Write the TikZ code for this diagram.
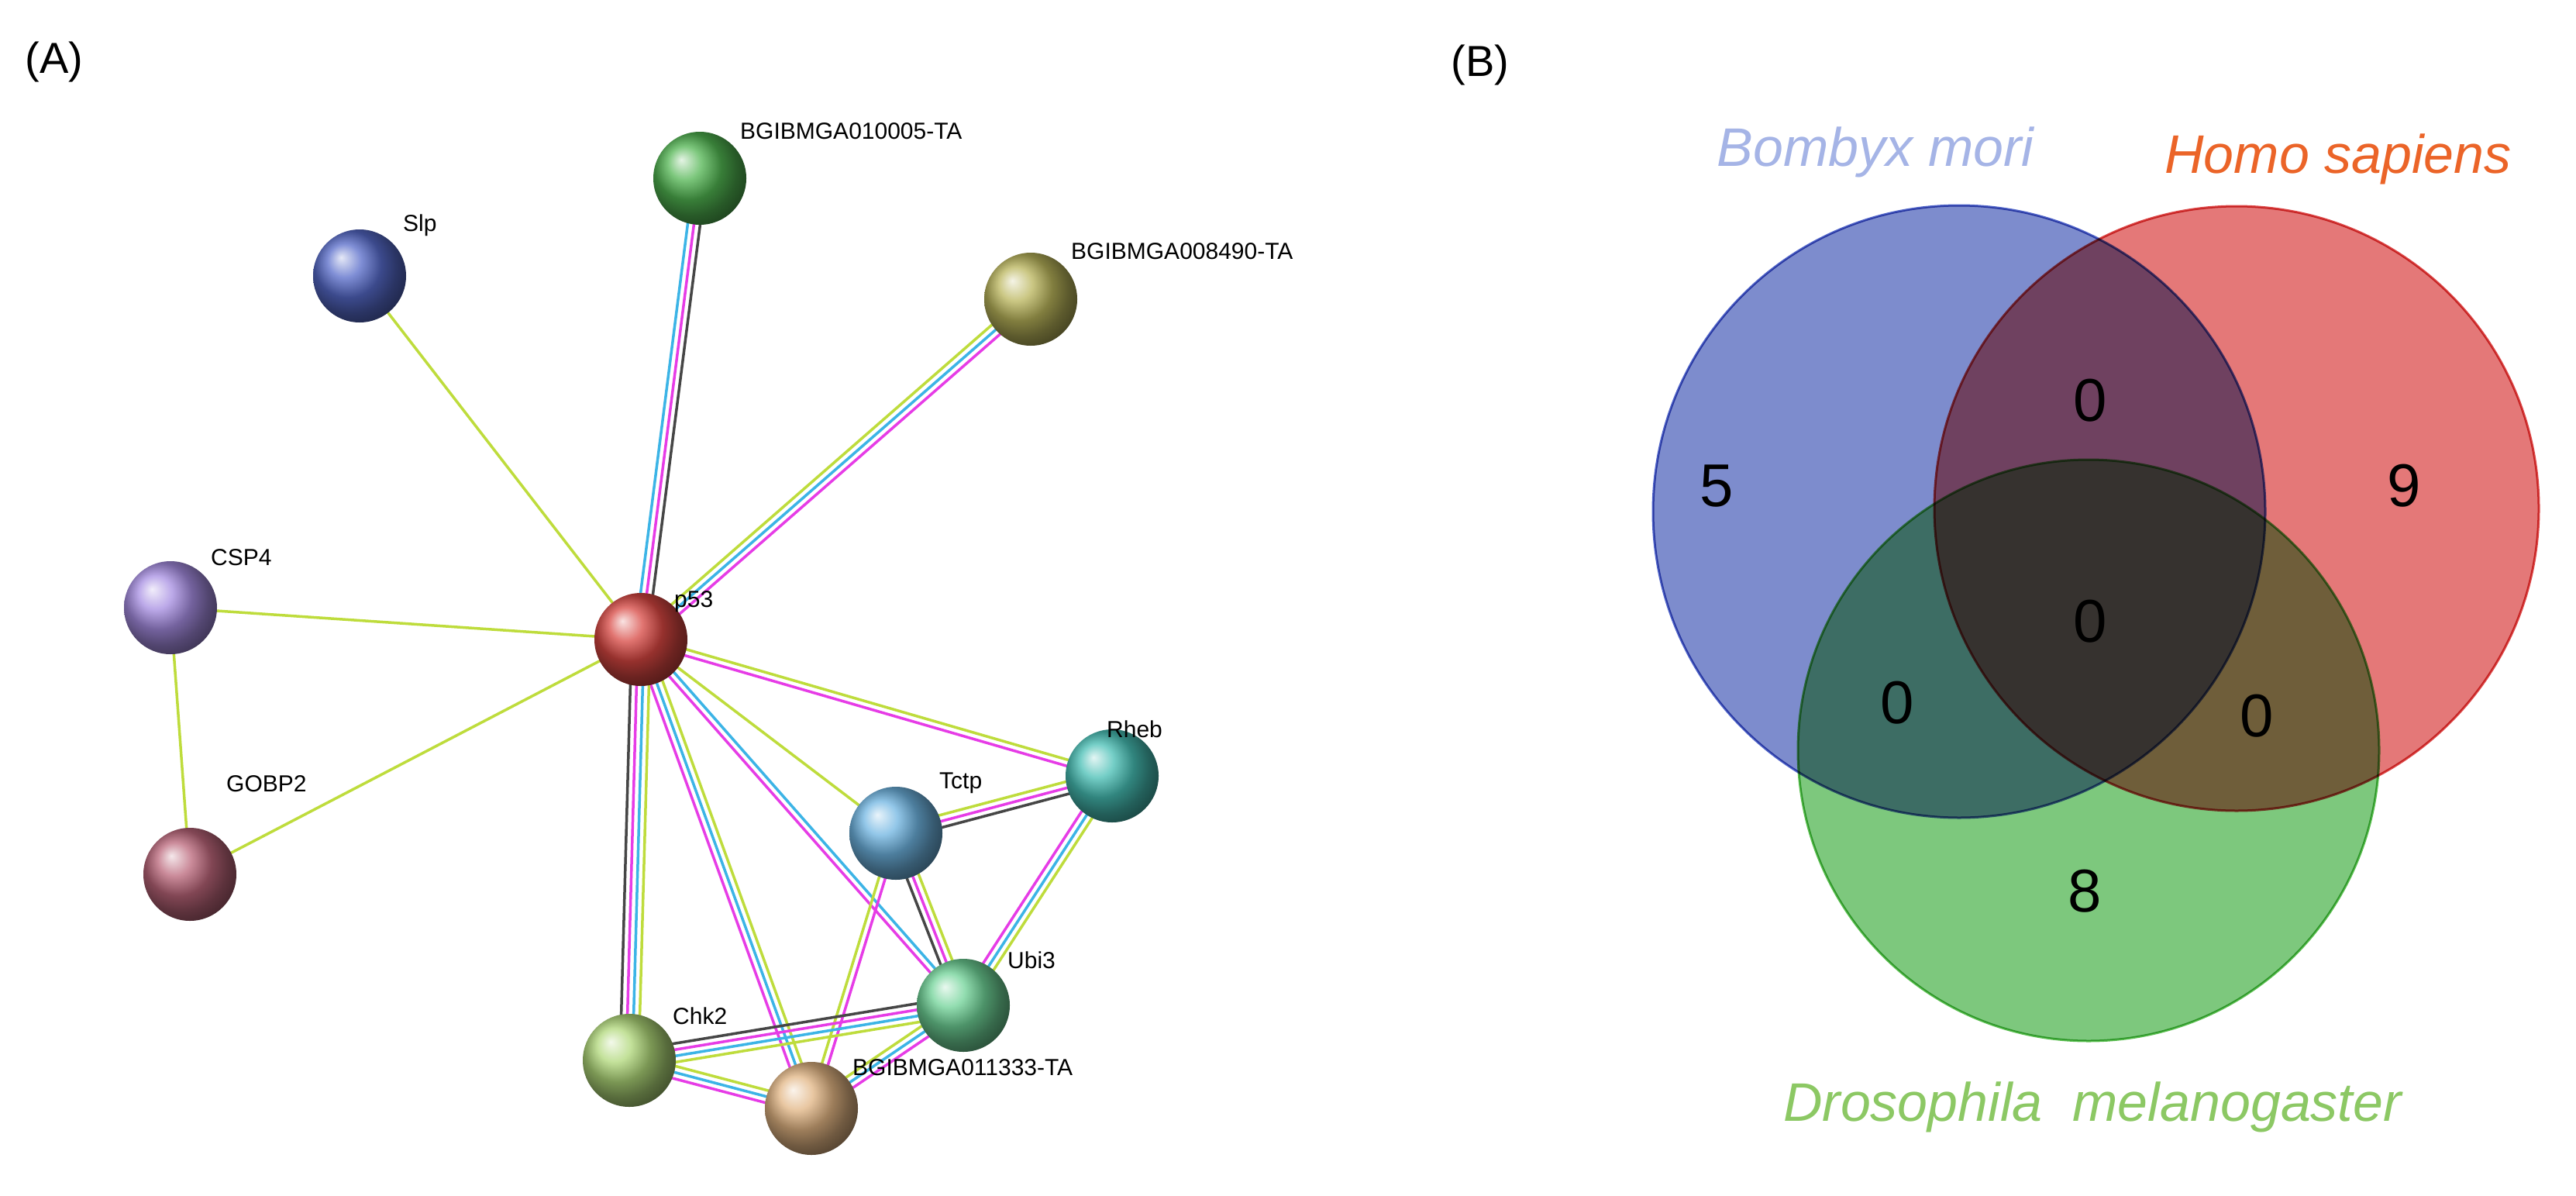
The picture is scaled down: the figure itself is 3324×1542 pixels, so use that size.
\documentclass[tikz,border=0pt]{standalone}
\usepackage{fontspec}
\setmainfont{Liberation Sans}
\usetikzlibrary{calc}
\definecolor{cY}{RGB}{190,220,60}
\definecolor{cC}{RGB}{60,180,230}
\definecolor{cM}{RGB}{230,60,230}
\definecolor{cK}{RGB}{70,70,70}
\definecolor{bp53}{RGB}{215,70,65}
\definecolor{bslp}{RGB}{85,105,200}
\definecolor{bg10}{RGB}{80,180,80}
\definecolor{bg84}{RGB}{185,180,90}
\definecolor{bcsp}{RGB}{165,140,225}
\definecolor{bgob}{RGB}{185,100,120}
\definecolor{btct}{RGB}{110,180,225}
\definecolor{brhb}{RGB}{70,190,180}
\definecolor{bubi}{RGB}{110,210,150}
\definecolor{bchk}{RGB}{175,215,120}
\definecolor{bg11}{RGB}{225,180,130}
\definecolor{vB}{RGB}{125,140,205}
\definecolor{vR}{RGB}{228,120,120}
\definecolor{vG}{RGB}{125,200,125}
\definecolor{vBd}{RGB}{80,100,200}
\definecolor{vRd}{RGB}{220,70,70}
\definecolor{vGd}{RGB}{90,190,80}
\definecolor{tB}{RGB}{165,180,230}
\definecolor{tR}{RGB}{235,100,40}
\definecolor{tG}{RGB}{140,200,100}
\newcommand\fs[1]{\fontsize{#1}{#1}\selectfont}
\newcommand\myedge[3]{%
  \foreach \c [count=\i] in {#3} {\global\let\nn\i}%
  \foreach \c [count=\i] in {#3} {%
    \pgfmathsetmacro\o{(\i-(\nn+1)/2)*8}%
    \draw[\c,line width=3.5pt] ($(#1)!\o pt!90:(#2)$) -- ($(#2)!\o pt!-90:(#1)$);}}
\tikzset{
  ball/.style={circle,minimum size=120pt,inner sep=0pt,shading=ball,ball color=#1},
  lab/.style={font=\fs{30},anchor=south west,inner sep=0pt},
}
\begin{document}
\begin{tikzpicture}[x=1pt,y=-1pt]
\useasboundingbox (0,0) rectangle (3324,1542);
\node[font=\fs{56}] (A) at (70,80) {(A)};
\node[font=\fs{56}] (B) at (1910,84) {(B)};
\coordinate (p53) at (827,825);
\coordinate (slp) at (464,356);
\coordinate (g10) at (903,230);
\coordinate (g84) at (1330,386);
\coordinate (csp) at (220,784);
\coordinate (gob) at (245,1128);
\coordinate (tct) at (1156,1075);
\coordinate (rhb) at (1435,1001);
\coordinate (ubi) at (1243,1297);
\coordinate (chk) at (812,1368);
\coordinate (g11) at (1047,1430);
\myedge{slp}{p53}{cY}
\myedge{g10}{p53}{cC,cM,cK}
\myedge{g84}{p53}{cY,cC,cM}
\myedge{csp}{p53}{cY}
\myedge{csp}{gob}{cY}
\myedge{gob}{p53}{cY}
\myedge{p53}{rhb}{cM,cY}
\myedge{p53}{tct}{cY}
\myedge{p53}{ubi}{cM,cC}
\myedge{p53}{g11}{cM,cC,cY}
\myedge{p53}{chk}{cK,cM,cC,cY}
\myedge{tct}{rhb}{cK,cM,cY}
\myedge{tct}{ubi}{cK,cM,cY}
\myedge{tct}{g11}{cY,cM}
\myedge{rhb}{ubi}{cM,cC,cY}
\myedge{chk}{ubi}{cY,cC,cM,cK}
\myedge{chk}{g11}{cM,cC,cY}
\myedge{ubi}{g11}{cY,cC,cM}
\node[ball=bp53] (np53) at (p53) {};
\node[ball=bslp] (nslp) at (slp) {};
\node[ball=bg10] (ng10) at (g10) {};
\node[ball=bg84] (ng84) at (g84) {};
\node[ball=bcsp] (ncsp) at (csp) {};
\node[ball=bgob] (ngob) at (gob) {};
\node[ball=btct] (ntct) at (tct) {};
\node[ball=brhb] (nrhb) at (rhb) {};
\node[ball=bubi] (nubi) at (ubi) {};
\node[ball=bchk] (nchk) at (chk) {};
\node[ball=bg11] (ng11) at (g11) {};
\node[lab] (l1) at (870,790) {p53};
\node[lab] (l2) at (520,305) {Slp};
\node[lab] (l3) at (955,180) {BGIBMGA010005-TA};
\node[lab] (l4) at (1382,335) {BGIBMGA008490-TA};
\node[lab] (l5) at (272,730) {CSP4};
\node[lab] (l6) at (292,1022) {GOBP2};
\node[lab] (l7) at (1212,1024) {Tctp};
\node[lab] (l8) at (1428,952) {Rheb};
\node[lab] (l9) at (1300,1250) {Ubi3};
\node[lab] (l10) at (868,1322) {Chk2};
\node[lab] (l11) at (1100,1388) {BGIBMGA011333-TA};
\begin{scope}[blend group=multiply]
\fill[fill=vB,draw=vBd,line width=3pt] (2528,660) circle (395);
\fill[fill=vR,draw=vRd,line width=3pt] (2886,656) circle (390);
\fill[fill=vG,draw=vGd,line width=3pt] (2695,968) circle (375);
\end{scope}
\begin{scope}[font=\fs{78}]
\node (n5) at (2215,627) {5};
\node (n0a) at (2697,517) {0};
\node (n9) at (3102,627) {9};
\node (n0b) at (2697,802) {0};
\node (n0c) at (2448,907) {0};
\node (n0d) at (2912,924) {0};
\node (n8) at (2690,1150) {8};
\end{scope}
\begin{scope}[font=\fs{70}\itshape]
\node[text=tB] (s1) at (2420,196) {Bombyx mori};
\node[text=tR] (s2) at (3017,205) {Homo sapiens};
\node[text=tG] (s3) at (2700,1428) {Drosophila\ \ melanogaster};
\end{scope}
\end{tikzpicture}
\end{document}
